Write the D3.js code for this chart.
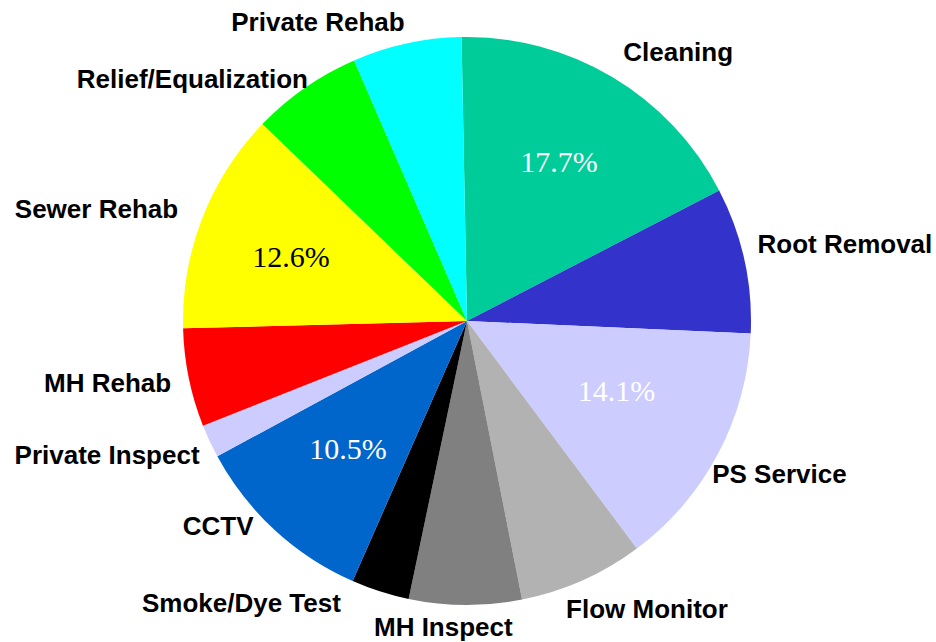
<!DOCTYPE html>
<html>
<head>
<meta charset="utf-8">
<script src="https://cdn.jsdelivr.net/npm/d3@7"></script>
<style>
  html, body { margin: 0; padding: 0; background: #ffffff; }
  svg { display: block; }
</style>
</head>
<body>
<svg id="chart" width="936" height="642"></svg>
<script>
// ---- data ----
const categories = ["Cleaning", "Root Removal", "PS Service", "Flow Monitor", "MH Inspect",
  "Smoke/Dye Test", "CCTV", "Private Inspect", "MH Rehab", "Sewer Rehab",
  "Relief/Equalization", "Private Rehab"];
const shares = [17.7, 8.3, 14.1, 7.1, 6.4, 3.3, 10.5, 1.9, 5.6, 12.6, 6.3, 6.2];
const percentLabelsShown = [true, false, true, false, false, false, true, false, false, true, false, false];

// ---- styles / layout ----
const sliceColors = ["#00CC99", "#3333CC", "#CCCCFF", "#B2B2B2", "#808080", "#000000",
  "#0066CC", "#CCCCFF", "#FF0000", "#FFFF00", "#00FF00", "#00FFFF"];
const pctTextColors = ["#ffffff", "#ffffff", "#ffffff", "#ffffff", "#ffffff", "#ffffff",
  "#ffffff", "#000000", "#ffffff", "#000000", "#000000", "#000000"];
// outside label placement (angle in degrees clockwise from 12 o'clock, distance as multiple of radius)
const labelAngles = [39.1, 79.8, 117.4, 148.8, 184.3, 217.8, 229.3, 248.3, 258.8, 285.5, 310.3, 332.8];
const labelDist = [1.179, 1.352, 1.239, 1.223, 1.113, 1.296, 1.156, 1.364, 1.290, 1.354, 1.268, 1.148];
// inside percent label placement (same conventions; only used where shown)
const pctAngles = [29.9, 0, 114.8, 0, 0, 0, 223.1, 0, 0, 290.2, 0, 0];
const pctDist = [0.650, 0, 0.580, 0, 0, 0, 0.613, 0, 0, 0.660, 0, 0];

const W = 936, H = 642;
const cx = 467, cy = 321, R = 284;
const startDeg = -1.1;
const toRad = d => d * Math.PI / 180;

const svg = d3.select("#chart");
const g = svg.append("g").attr("transform", `translate(${cx},${cy})`);

const pie = d3.pie()
  .sort(null)
  .value(d => d.v)
  .startAngle(toRad(startDeg))
  .endAngle(toRad(startDeg) + 2 * Math.PI);

const data = categories.map((c, i) => ({ name: c, v: shares[i], i }));
const arcs = pie(data);

const arc = d3.arc().innerRadius(0).outerRadius(R);

g.selectAll("path.slice")
  .data(arcs)
  .join("path")
  .attr("class", "slice")
  .attr("d", arc)
  .attr("fill", d => sliceColors[d.data.i]);

// percent labels
g.selectAll("text.pct")
  .data(arcs.filter(d => percentLabelsShown[d.data.i]))
  .join("text")
  .attr("class", "pct")
  .attr("x", d => Math.sin(toRad(pctAngles[d.data.i])) * pctDist[d.data.i] * R)
  .attr("y", d => -Math.cos(toRad(pctAngles[d.data.i])) * pctDist[d.data.i] * R)
  .attr("text-anchor", "middle")
  .attr("dy", "0.36em")
  .attr("font-family", "'Liberation Serif', 'Times New Roman', serif")
  .attr("font-size", 30)
  .attr("fill", d => pctTextColors[d.data.i])
  .text(d => d3.format(".1f")(d.data.v) + "%");

// category labels
g.selectAll("text.cat")
  .data(arcs)
  .join("text")
  .attr("class", "cat")
  .attr("x", d => Math.sin(toRad(labelAngles[d.data.i])) * labelDist[d.data.i] * R)
  .attr("y", d => -Math.cos(toRad(labelAngles[d.data.i])) * labelDist[d.data.i] * R)
  .attr("text-anchor", "middle")
  .attr("font-family", "'Liberation Sans', Arial, sans-serif")
  .attr("font-weight", "bold")
  .attr("font-size", 26)
  .attr("fill", "#000000")
  .text(d => d.data.name);
</script>
</body>
</html>
